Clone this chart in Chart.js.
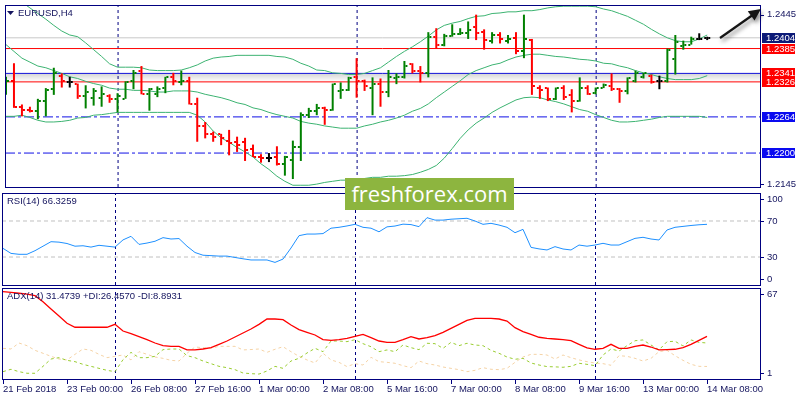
<!DOCTYPE html>
<html>
<head>
<meta charset="utf-8">
<title>EURUSD,H4</title>
<script src="https://cdn.jsdelivr.net/npm/chart.js@4.4.0/dist/chart.umd.min.js"></script>
<style>
  html, body { margin: 0; padding: 0; background: #fff; }
  #wrap { position: relative; width: 800px; height: 400px; overflow: hidden; }
  #wrap canvas { position: absolute; left: 0; }
  #main { top: 0; }
  #rsi { top: 192px; }
  #adx { top: 287px; }
  .logo { position: absolute; left: 345px; top: 178px; width: 169px; height: 32px; background: #8db53f; color: #fff;
          font: 22px "Open Sans", sans-serif; text-align: center; line-height: 31px; z-index: 2; }
</style>
</head>
<body>
<div id="wrap">
  <canvas id="main" width="800" height="192"></canvas>
  <canvas id="rsi" width="800" height="95"></canvas>
  <canvas id="adx" width="800" height="113"></canvas>
  <div class="logo">freshforex.com</div>
</div>
<script>
// time axis
const timeLabels = ['21 Feb 2018', '23 Feb 00:00', '26 Feb 08:00', '27 Feb 16:00', '1 Mar 00:00', '2 Mar 08:00',
  '5 Mar 16:00', '7 Mar 00:00', '8 Mar 08:00', '9 Mar 16:00', '13 Mar 00:00', '14 Mar 08:00'];
const timeLabelBars = [0, 8, 16, 24, 32, 40, 48, 56, 64, 72, 80, 88];
const separatorBars = [14, 44, 74];

// H4 bars
const opens = [1.2311, 1.2327, 1.2282, 1.2277, 1.2274, 1.2292, 1.2313, 1.2337, 1.2325, 1.2322,
  1.2301, 1.2298, 1.2298, 1.2301, 1.2296, 1.2296, 1.2327, 1.2346, 1.2304, 1.2304,
  1.2315, 1.2334, 1.2325, 1.2328, 1.2286, 1.2248, 1.2233, 1.2233, 1.2222, 1.2219,
  1.2219, 1.2208, 1.2193, 1.2191, 1.2193, 1.2181, 1.2188, 1.2210, 1.2268, 1.2275,
  1.2280, 1.2277, 1.2310, 1.2311, 1.2334, 1.2328, 1.2315, 1.2322, 1.2308, 1.2332,
  1.2334, 1.2358, 1.2346, 1.2341, 1.2406, 1.2392, 1.2407, 1.2411, 1.2412, 1.2423,
  1.2414, 1.2399, 1.2409, 1.2399, 1.2404, 1.2380, 1.2400, 1.2316, 1.2315, 1.2296,
  1.2315, 1.2303, 1.2292, 1.2316, 1.2306, 1.2316, 1.2318, 1.2313, 1.2310, 1.2328,
  1.2334, 1.2337, 1.2327, 1.2328, 1.2367, 1.2390, 1.2392, 1.2402, 1.2404];
const highs = [1.2335, 1.2359, 1.2286, 1.2282, 1.2296, 1.2315, 1.2351, 1.2341, 1.2335, 1.2323,
  1.2320, 1.2315, 1.2318, 1.2304, 1.2306, 1.2327, 1.2347, 1.2354, 1.2315, 1.2318,
  1.2335, 1.2342, 1.2346, 1.2335, 1.2298, 1.2255, 1.2238, 1.2234, 1.2241, 1.2229,
  1.2227, 1.2215, 1.2198, 1.2200, 1.2212, 1.2195, 1.2222, 1.2272, 1.2280, 1.2287,
  1.2282, 1.2323, 1.2325, 1.2335, 1.2368, 1.2330, 1.2334, 1.2332, 1.2347, 1.2341,
  1.2363, 1.2359, 1.2354, 1.2414, 1.2421, 1.2411, 1.2428, 1.2421, 1.2433, 1.2445,
  1.2419, 1.2414, 1.2414, 1.2409, 1.2414, 1.2445, 1.2402, 1.2320, 1.2316, 1.2316,
  1.2320, 1.2313, 1.2334, 1.2320, 1.2316, 1.2323, 1.2341, 1.2315, 1.2334, 1.2346,
  1.2342, 1.2339, 1.2337, 1.2385, 1.2409, 1.2399, 1.2406, 1.2412, 1.2406];
const lows = [1.2303, 1.2280, 1.2265, 1.2272, 1.2260, 1.2265, 1.2303, 1.2316, 1.2316, 1.2296,
  1.2279, 1.2284, 1.2282, 1.2289, 1.2272, 1.2296, 1.2313, 1.2304, 1.2275, 1.2299,
  1.2306, 1.2320, 1.2320, 1.2286, 1.2220, 1.2226, 1.2220, 1.2214, 1.2196, 1.2202,
  1.2186, 1.2193, 1.2183, 1.2184, 1.2178, 1.2160, 1.2154, 1.2186, 1.2262, 1.2267,
  1.2250, 1.2275, 1.2296, 1.2310, 1.2298, 1.2310, 1.2267, 1.2282, 1.2299, 1.2322,
  1.2332, 1.2341, 1.2325, 1.2334, 1.2385, 1.2389, 1.2406, 1.2409, 1.2402, 1.2400,
  1.2383, 1.2394, 1.2394, 1.2394, 1.2375, 1.2368, 1.2303, 1.2296, 1.2292, 1.2294,
  1.2294, 1.2272, 1.2291, 1.2303, 1.2304, 1.2315, 1.2310, 1.2289, 1.2304, 1.2325,
  1.2332, 1.2323, 1.2313, 1.2325, 1.2339, 1.2383, 1.2392, 1.2400, 1.2400];
const closes = [1.2327, 1.2282, 1.2277, 1.2275, 1.2292, 1.2311, 1.2341, 1.2328, 1.2325, 1.2301,
  1.2308, 1.2310, 1.2304, 1.2296, 1.2301, 1.2325, 1.2342, 1.2304, 1.2313, 1.2313,
  1.2334, 1.2327, 1.2328, 1.2287, 1.2248, 1.2233, 1.2229, 1.2226, 1.2217, 1.2215,
  1.2205, 1.2193, 1.2191, 1.2191, 1.2181, 1.2193, 1.2210, 1.2268, 1.2275, 1.2279,
  1.2277, 1.2322, 1.2311, 1.2332, 1.2328, 1.2318, 1.2322, 1.2308, 1.2335, 1.2334,
  1.2354, 1.2346, 1.2342, 1.2406, 1.2392, 1.2407, 1.2411, 1.2412, 1.2418, 1.2412,
  1.2400, 1.2409, 1.2402, 1.2402, 1.2380, 1.2402, 1.2318, 1.2311, 1.2296, 1.2315,
  1.2299, 1.2292, 1.2316, 1.2304, 1.2315, 1.2320, 1.2313, 1.2310, 1.2332, 1.2341,
  1.2341, 1.2325, 1.2327, 1.2383, 1.2397, 1.2392, 1.2402, 1.2402, 1.2404];

// Bollinger bands
const bbUpper = [1.2519, 1.2495, 1.2467, 1.2457, 1.2447, 1.2437, 1.2426, 1.2416, 1.2409, 1.2406,
  1.2395, 1.2383, 1.2371, 1.2358, 1.2352, 1.2352, 1.2352, 1.2351, 1.2347, 1.2346,
  1.2346, 1.2346, 1.2347, 1.2351, 1.2356, 1.2363, 1.2368, 1.2370, 1.2371, 1.2373,
  1.2373, 1.2373, 1.2373, 1.2373, 1.2371, 1.2370, 1.2366, 1.2359, 1.2354, 1.2347,
  1.2346, 1.2342, 1.2341, 1.2339, 1.2339, 1.2341, 1.2346, 1.2351, 1.2361, 1.2371,
  1.2380, 1.2388, 1.2397, 1.2407, 1.2418, 1.2426, 1.2430, 1.2433, 1.2438, 1.2442,
  1.2443, 1.2447, 1.2448, 1.2450, 1.2450, 1.2452, 1.2452, 1.2454, 1.2457, 1.2459,
  1.2460, 1.2460, 1.2460, 1.2460, 1.2459, 1.2455, 1.2452, 1.2447, 1.2442, 1.2435,
  1.2428, 1.2419, 1.2411, 1.2404, 1.2399, 1.2397, 1.2397, 1.2402, 1.2409];
const bbMiddle = [1.2392, 1.2380, 1.2368, 1.2361, 1.2354, 1.2351, 1.2346, 1.2341, 1.2335, 1.2332,
  1.2327, 1.2323, 1.2320, 1.2315, 1.2313, 1.2313, 1.2311, 1.2311, 1.2310, 1.2308,
  1.2308, 1.2310, 1.2310, 1.2310, 1.2308, 1.2304, 1.2301, 1.2298, 1.2294, 1.2289,
  1.2286, 1.2280, 1.2277, 1.2272, 1.2268, 1.2265, 1.2262, 1.2256, 1.2253, 1.2251,
  1.2248, 1.2246, 1.2244, 1.2244, 1.2244, 1.2248, 1.2251, 1.2255, 1.2258, 1.2262,
  1.2267, 1.2274, 1.2279, 1.2287, 1.2298, 1.2308, 1.2318, 1.2328, 1.2339, 1.2346,
  1.2351, 1.2356, 1.2359, 1.2365, 1.2370, 1.2373, 1.2375, 1.2375, 1.2373, 1.2371,
  1.2370, 1.2368, 1.2366, 1.2365, 1.2363, 1.2359, 1.2358, 1.2354, 1.2351, 1.2346,
  1.2342, 1.2339, 1.2335, 1.2332, 1.2330, 1.2330, 1.2330, 1.2332, 1.2337];
const bbLower = [1.2265, 1.2265, 1.2267, 1.2263, 1.2258, 1.2255, 1.2255, 1.2256, 1.2258, 1.2262,
  1.2263, 1.2267, 1.2268, 1.2270, 1.2272, 1.2272, 1.2272, 1.2272, 1.2272, 1.2272,
  1.2272, 1.2272, 1.2272, 1.2272, 1.2267, 1.2255, 1.2239, 1.2227, 1.2219, 1.2210,
  1.2202, 1.2193, 1.2181, 1.2171, 1.2159, 1.2150, 1.2143, 1.2143, 1.2143, 1.2145,
  1.2148, 1.2150, 1.2152, 1.2152, 1.2154, 1.2155, 1.2157, 1.2157, 1.2159, 1.2159,
  1.2160, 1.2162, 1.2166, 1.2171, 1.2178, 1.2191, 1.2208, 1.2226, 1.2241, 1.2253,
  1.2262, 1.2272, 1.2280, 1.2287, 1.2294, 1.2298, 1.2299, 1.2298, 1.2294, 1.2291,
  1.2287, 1.2282, 1.2277, 1.2274, 1.2268, 1.2263, 1.2258, 1.2255, 1.2255, 1.2256,
  1.2258, 1.2260, 1.2263, 1.2265, 1.2265, 1.2265, 1.2265, 1.2265, 1.2263];

// RSI(14)
const rsiValues = [39.6, 34, 33, 33, 37, 42, 47, 46.5, 45, 42,
  42.5, 41, 43, 42, 41, 49, 53, 44, 45.5, 47.5,
  51.5, 50, 50.5, 42, 35, 32, 31.5, 31, 31, 29.5,
  28, 26.7, 26.7, 26.7, 24, 27.7, 40, 53.7, 55.5, 55.5,
  56, 62, 63, 64.5, 66.3, 63, 62, 58, 63.5, 64.4,
  66.5, 66, 63.7, 73.7, 71, 71, 72, 72.5, 73, 70,
  66.3, 67.4, 65.5, 63, 57, 60.7, 40.7, 39, 37.8, 41.5,
  38.9, 37.8, 43.3, 42, 43.3, 45.2, 43.3, 43.3, 47, 50.7,
  51.9, 50, 48.9, 60, 63, 64, 65, 65.8, 66.3];

// ADX(14)
const adxValues = [65, 64.4, 63.8, 63.2, 62, 57.5, 52, 46.7, 41.3, 38.3,
  38.3, 38.3, 38.3, 38.3, 40.5, 35.5, 33.5, 31.3, 29, 26.5,
  24.5, 24, 24, 21.3, 21.3, 22, 23, 25.5, 28, 31,
  34, 37, 40.5, 44.5, 44.5, 44, 40, 36.5, 34.5, 32.5,
  29, 28.5, 29, 30, 31.5, 33, 30.5, 28, 27, 27,
  29, 31.2, 29.5, 30.5, 32, 34.5, 37.5, 40.5, 43.5, 45,
  45, 45, 44.5, 43, 38, 35, 33, 30.8, 30, 29.5,
  29, 28.3, 25.5, 22.8, 21.8, 22.5, 25.5, 22.5, 22.5, 24,
  25, 23.5, 21.3, 21.5, 21.8, 23, 25.5, 28.5, 31.5];
const plusDI = [5, 6.8, 5, 3.8, 3.8, 9, 14.5, 15.5, 13.5, 12.5,
  10.5, 9, 7.5, 6, 5, 14, 19.5, 15.5, 15.5, 16.5,
  21.5, 22, 22, 17, 15.5, 13, 11, 9, 8, 6.5,
  4, 3.5, 3.2, 5.5, 9, 7.5, 13, 15, 19, 22.5,
  20, 28, 28, 27.5, 29, 26, 23.7, 20, 21.3, 20,
  25, 23, 21.5, 26.3, 26, 22.5, 27, 24.5, 26.3, 25,
  24.5, 21, 18.8, 16, 14.3, 15, 11.5, 10, 8.8, 8.6,
  8.3, 9, 11.3, 10.5, 9.5, 17.5, 22, 20.5, 24.5, 28.2,
  28.8, 25, 21.3, 27.5, 27.8, 24.3, 28.8, 27, 26.5];
const minusDI = [22.5, 22, 26.5, 24.5, 21, 18.8, 16.5, 14.5, 13.8, 18,
  22, 21, 18, 15.5, 16.5, 17.5, 13.8, 20, 18, 16,
  15, 13.5, 13, 18.8, 23.5, 23, 22.5, 24, 24, 24,
  21.3, 21.6, 22, 19.5, 21.8, 23.7, 20, 16.5, 13.8, 11.5,
  18.8, 13.8, 12, 8.8, 11, 10, 15.8, 12.5, 12, 11.3,
  9.5, 8, 13, 11, 10, 8.5, 7.5, 6.5, 5, 6,
  8, 6.8, 6.5, 7.5, 12, 16, 18, 18, 17.5, 14.5,
  17.5, 15.5, 13.8, 12.5, 11.5, 11, 9.8, 17, 16.5, 15,
  13, 15, 20, 21, 17, 13.5, 10.5, 9, 8.9];

// axis ticks and levels
const priceTicks = [1.2445, 1.2145];
const priceLevels = [1.2404, 1.2385, 1.2341, 1.2326, 1.2264, 1.2200];
const rsiTicks = [100, 70, 30, 0];
const rsiLevels = [70, 30];
const adxTicks = [67, 1];

const NAVY = '#000080';
const TEXT = '#14145e';
const FONT = '9.5px "Liberation Sans", Arial, sans-serif';
const BB = '#3cb371';
const X_MIN = -0.125, X_MAX = 94.625;   // 8 px per bar, first bar on the left edge

const levelStyle = [
  { line: '#c8c8c8', box: '#0c1a78', dash: [] },
  { line: '#ff0000', box: '#ff0000', dash: [] },
  { line: '#1010d8', box: '#ff0000', dash: [] },
  { line: '#ff0000', box: '#ff0000', dash: [] },
  { line: '#1010e6', box: '#0a0af0', dash: [10, 3, 3, 3] },
  { line: '#1010e6', box: '#0a0af0', dash: [10, 3, 3, 3] }
];

const barColor = opens.map((o, i) => closes[i] > o ? '#008000' : closes[i] < o ? '#ff0000' : '#000000');

// little open / close ticks, used as point images
const tickCache = {};
function tickImage(color, isOpen) {
  const key = color + isOpen;
  if (tickCache[key]) return tickCache[key];
  const c = document.createElement('canvas');
  c.width = 8; c.height = 2;
  const g = c.getContext('2d');
  g.fillStyle = color;
  g.fillRect(isOpen ? 1 : 5, 0, 2, 2);
  tickCache[key] = c;
  return c;
}

const pts = arr => arr.map((v, i) => ({ x: i, y: v }));

function line(data, color, extra) {
  return Object.assign({
    type: 'line', data, borderColor: color, borderWidth: 1,
    pointRadius: 0, fill: false, tension: 0
  }, extra);
}
function hLine(v, color, dash, order) {
  return line([{ x: X_MIN, y: v }, { x: X_MAX, y: v }], color, { borderDash: dash, order });
}
function separators(yMin, yMax) {
  return separatorBars.map(b => line([{ x: b, y: yMin }, { x: b, y: yMax }], NAVY,
    { borderDash: [3, 3], order: 9, crisp: true }));
}

function options(yMin, yMax, pad) {
  return {
    responsive: false, animation: false, events: [], devicePixelRatio: 1,
    layout: { padding: { left: 2, right: 40, top: pad.top, bottom: pad.bottom } },
    plugins: { legend: { display: false }, tooltip: { enabled: false } },
    scales: {
      x: { type: 'linear', display: false, min: X_MIN, max: X_MAX, offset: false },
      y: { type: 'linear', display: false, min: yMin, max: yMax, beginAtZero: false }
    }
  };
}

// frame, right scale, title, time axis
function panelPlugin(cfg) {
  return {
    id: 'panel',
    beforeDatasetDraw(chart, args) {
      if (chart.data.datasets[args.index].crisp) { chart.ctx.save(); chart.ctx.translate(0.5, 0); }
    },
    afterDatasetDraw(chart, args) {
      if (chart.data.datasets[args.index].crisp) chart.ctx.restore();
    },
    beforeDatasetsDraw(chart) {
      if (cfg.under) cfg.under(chart);
    },
    afterDraw(chart) {
      const { ctx, chartArea: a } = chart;
      const x = chart.scales.x, y = chart.scales.y;
      ctx.save();
      ctx.strokeStyle = NAVY;
      ctx.lineWidth = 1;
      ctx.strokeRect(a.left + 0.5, a.top + 0.5, a.right - a.left, a.bottom - a.top);

      ctx.font = FONT;
      ctx.textBaseline = 'middle';
      ctx.textAlign = 'left';
      cfg.ticks.forEach(v => {
        let py = y.getPixelForValue(v);
        if (cfg.clamp) py = Math.min(Math.max(py, a.top + 6), a.bottom - 6);
        const ry = Math.round(py) + 0.5;
        ctx.beginPath(); ctx.moveTo(a.right + 1, ry); ctx.lineTo(a.right + 4, ry); ctx.stroke();
        ctx.fillStyle = TEXT;
        ctx.fillText(cfg.format(v), a.right + 7, py);
      });

      (cfg.boxes || []).forEach((v, k) => {
        const py = Math.round(y.getPixelForValue(v));
        ctx.fillStyle = levelStyle[k].box;
        ctx.fillRect(a.right + 2, py - 5, 33, 10);
        ctx.fillStyle = '#fff';
        ctx.fillText(v.toFixed(4), a.right + 6, py);
      });

      ctx.fillStyle = TEXT;
      let tx = 7;
      if (cfg.marker) {
        ctx.beginPath();
        ctx.moveTo(7, a.top + 6); ctx.lineTo(14, a.top + 6); ctx.lineTo(10.5, a.top + 10);
        ctx.closePath(); ctx.fill();
        tx = 18;
      }
      ctx.fillText(cfg.title, tx, a.top + 8.5);

      if (cfg.time) {
        timeLabelBars.forEach((b, k) => {
          const px = Math.round(x.getPixelForValue(b));
          ctx.strokeStyle = NAVY;
          ctx.beginPath(); ctx.moveTo(px + 0.5, a.bottom + 1); ctx.lineTo(px + 0.5, a.bottom + 5); ctx.stroke();
          ctx.fillStyle = TEXT;
          ctx.fillText(timeLabels[k], px, a.bottom + 10);
        });
      }

      if (cfg.arrow) {
        ctx.shadowColor = 'rgba(0,0,0,0.45)';
        ctx.shadowBlur = 4; ctx.shadowOffsetX = 2; ctx.shadowOffsetY = 3;
        ctx.strokeStyle = '#151515'; ctx.fillStyle = '#151515';
        ctx.lineWidth = 2.2;
        ctx.beginPath(); ctx.moveTo(720, 38); ctx.lineTo(752, 15.5); ctx.stroke();
        ctx.beginPath();
        ctx.moveTo(761, 9); ctx.lineTo(754.5, 20.5); ctx.lineTo(747.8, 11.3);
        ctx.closePath(); ctx.fill();
      }
      ctx.restore();
    }
  };
}

// main price panel
const P_MIN = 1.21399, P_MAX = 1.24621;
new Chart(document.getElementById('main'), {
  type: 'bar',
  data: {
    datasets: [
      line(pts(opens), 'transparent', { showLine: false, pointRadius: 3,
        pointStyle: barColor.map(c => tickImage(c, true)), order: 0 }),
      line(pts(closes), 'transparent', { showLine: false, pointRadius: 3,
        pointStyle: barColor.map(c => tickImage(c, false)), order: 0 }),
      { type: 'bar', data: lows.map((l, i) => ({ x: i, y: [l, highs[i]] })),
        backgroundColor: barColor, barThickness: 2, inflateAmount: 0, borderWidth: 0, order: 1 },
      line(pts(bbUpper), BB, { order: 5 }),
      line(pts(bbMiddle), BB, { order: 5 }),
      line(pts(bbLower), BB, { order: 5 }),
      ...priceLevels.map((v, k) => hLine(v, levelStyle[k].line, levelStyle[k].dash, 8)),
      ...separators(P_MIN, P_MAX)
    ]
  },
  options: options(P_MIN, P_MAX, { top: 2, bottom: 2 }),
  plugins: [panelPlugin({
    ticks: priceTicks, format: v => v.toFixed(4), boxes: priceLevels,
    title: 'EURUSD,H4', marker: true, arrow: true,
    under(chart) {
      const { ctx, chartArea: a } = chart;
      const y1 = chart.scales.y.getPixelForValue(priceLevels[2]);
      const y2 = chart.scales.y.getPixelForValue(priceLevels[3]);
      const g = ctx.createLinearGradient(0, y1, 0, y2);
      g.addColorStop(0, 'rgba(0,0,0,0.17)');
      g.addColorStop(1, 'rgba(0,0,0,0)');
      ctx.save();
      ctx.fillStyle = g;
      ctx.fillRect(a.left + 1, y1, a.right - a.left - 1, y2 - y1);
      ctx.restore();
    }
  })]
});

// RSI panel
const R_MIN = -1.1, R_MAX = 101.1;
new Chart(document.getElementById('rsi'), {
  type: 'line',
  data: {
    datasets: [
      line(pts(rsiValues), '#1e90ff', { order: 0 }),
      ...rsiLevels.map(v => hLine(v, '#c0c0c0', [4, 3], 5)),
      ...separators(R_MIN, R_MAX)
    ]
  },
  options: options(R_MIN, R_MAX, { top: 1, bottom: 2 }),
  plugins: [panelPlugin({ ticks: rsiTicks, format: v => String(v), clamp: true, title: 'RSI(14) 66.3259' })]
});

// ADX panel
const A_MIN = -0.5, A_MAX = 67.75;
new Chart(document.getElementById('adx'), {
  type: 'line',
  data: {
    datasets: [
      line(pts(adxValues), '#ff0000', { borderWidth: 1.3, order: 0 }),
      line(pts(plusDI), '#9acd32', { borderDash: [3, 3], order: 1 }),
      line(pts(minusDI), '#f5d3a6', { borderDash: [3, 3], order: 2 }),
      ...separators(A_MIN, A_MAX)
    ]
  },
  options: options(A_MIN, A_MAX, { top: 1, bottom: 21 }),
  plugins: [panelPlugin({ ticks: adxTicks, format: v => String(v), clamp: true, time: true,
    title: 'ADX(14) 31.4739 +DI:26.4570 -DI:8.8931' })]
});
</script>
</body>
</html>
